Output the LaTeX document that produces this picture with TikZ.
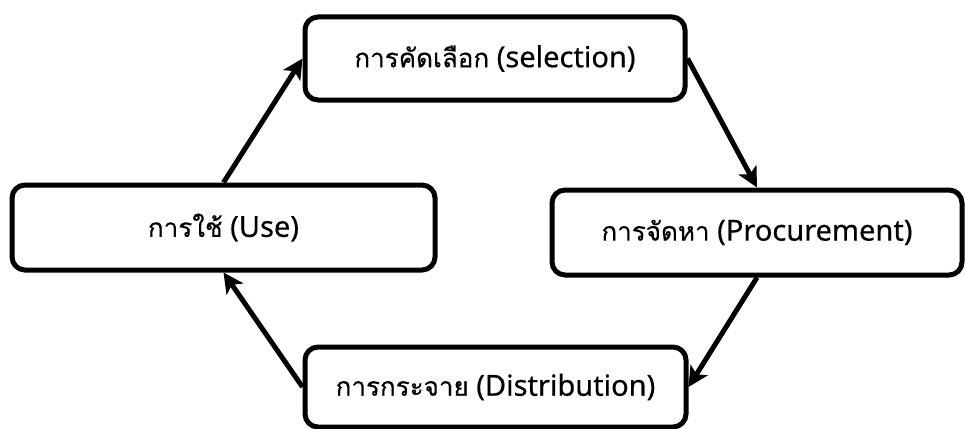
\documentclass[tikz,border=0pt]{standalone}
\usepackage{fontspec}
\setmainfont{Noto Sans}[FakeBold=0.4]
\newfontfamily\thaifont[Script=Thai,FakeBold=0.4]{Loma}
\usetikzlibrary{arrows.meta}
\newcommand{\thword}[1]{{\thaifont\fontsize{26}{30}\selectfont #1}}
\begin{document}
\begin{tikzpicture}[x=1pt,y=1pt,
  stagebox/.style={draw=black, line width=5pt, rounded corners=13pt,
    fill=white, inner sep=0pt, font=\fontsize{29}{34}\selectfont},
  flow/.style={line width=5pt, -{Stealth[length=20pt,width=20pt,inset=5pt]}}]
\useasboundingbox (0,0) rectangle (965,-428);
\clip (0,0) rectangle (965,-428);

\node[stagebox, minimum width=380pt, minimum height=83pt] (sel) at (495,-58.5) {\thword{การคัดเลือก} (selection)};
\node[stagebox, minimum width=410pt, minimum height=85pt] (proc) at (757,-232.5) {\thword{การจัดหา} (Procurement)};
\node[stagebox, minimum width=381pt, minimum height=80pt] (dist) at (495.5,-387) {\thword{การกระจาย} (Distribution)};
\node[stagebox, minimum width=423pt, minimum height=85pt] (use) at (223.5,-227.5) {\thword{การใช้} (Use)};

\draw[flow] (use.north) -- (sel.west);
\draw[flow] (sel.east) -- (proc.north);
\draw[flow] (proc.south) -- (dist.east);
\draw[flow] (dist.west) -- (use.south);
\end{tikzpicture}
\end{document}
